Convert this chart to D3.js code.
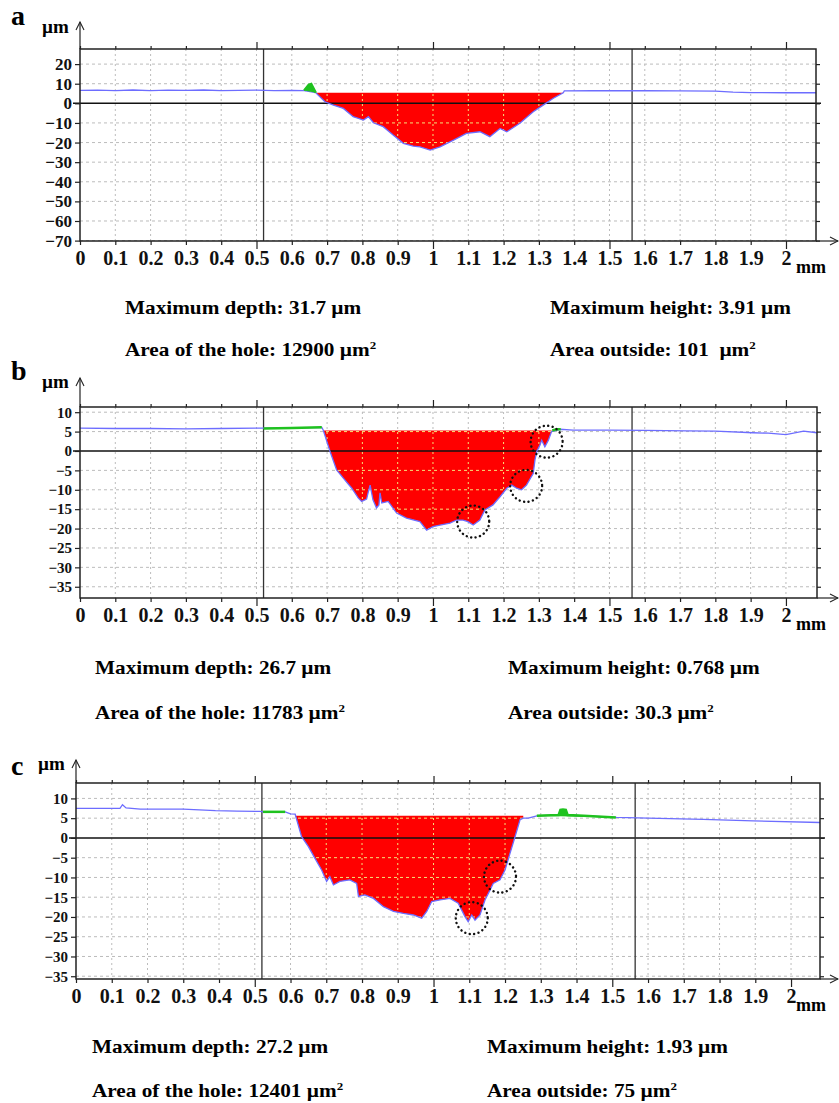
<!DOCTYPE html>
<html>
<head>
<meta charset="utf-8">
<script src="https://cdnjs.cloudflare.com/ajax/libs/d3/7.8.5/d3.min.js"></script>
<style>
  body { margin: 0; background: #fff; }
  svg { font-family: "Liberation Serif", "Times New Roman", serif; font-weight: bold; }
  text { white-space: pre; }
</style>
</head>
<body>
<svg width="839" height="1103"></svg>
<script>
// profile data (x in mm, y in µm)

var xTicks = d3.range(0, 21).map(function(i) { return i / 10; });
var aYTicks = [20, 10, 0, -10, -20, -30, -40, -50, -60, -70];
var bcYTicks = [10, 5, 0, -5, -10, -15, -20, -25, -30, -35];
var cursorX = [0.52, 1.564];

// --- a ---
var aLeftX = [0, 0.05, 0.1, 0.15, 0.2, 0.25, 0.3, 0.35, 0.4, 0.45, 0.5, 0.55, 0.6, 0.635];
var aLeftY = [6.6, 6.7, 6.5, 6.8, 6.5, 6.7, 6.6, 6.8, 6.5, 6.6, 6.7, 6.5, 6.6, 6.5];
var aGreenX = [0.635, 0.648, 0.655, 0.668];
var aGreenY = [6.5, 9.4, 9.8, 5.4];
var aHoleX = [0.668, 0.694, 0.718, 0.746, 0.774, 0.803, 0.817, 0.831, 0.859, 0.887, 0.916, 0.944, 0.963, 0.992, 1.02, 1.058, 1.095, 1.133, 1.161, 1.19, 1.209, 1.246, 1.284, 1.312, 1.341, 1.369];
var aHoleY = [5.4, 0.8, -0.9, -2.6, -6.8, -8.5, -6.8, -9.9, -11.9, -16.2, -20.4, -21.8, -22.2, -23.8, -22.2, -18.8, -15.3, -14.5, -17, -12.8, -14.5, -10.2, -4.3, -0.9, 2.6, 5.4];
var aRightX = [1.372, 1.45, 1.53, 1.6, 1.7, 1.8, 1.85, 1.9, 2.0, 2.085];
var aRightY = [6.3, 6.4, 6.4, 6.4, 6.3, 6.2, 5.7, 5.5, 5.4, 5.4];
var aHoleTop = 5.4;
var aCircles = [];
var aStats = ["Maximum depth: 31.7 µm", "Maximum height: 3.91 µm", "Area of the hole: 12900 µm", "Area outside: 101  µm"];

// --- b ---
var bLeftX = [0, 0.1, 0.2, 0.3, 0.4, 0.5, 0.52, 0.6, 0.685];
var bLeftY = [5.9, 5.8, 5.8, 5.7, 5.8, 5.9, 5.9, 5.9, 6.1];
var bGreen1X = [0.52, 0.6, 0.685];
var bGreen1Y = [5.8, 5.9, 6.1];
var bGreen2X = [1.338, 1.35, 1.362];
var bGreen2Y = [5.3, 5.6, 5.6];
var bHoleX = [0.689, 0.708, 0.727, 0.746, 0.77, 0.788, 0.798, 0.812, 0.817, 0.822, 0.83, 0.84, 0.847, 0.85, 0.855, 0.873, 0.897, 0.925, 0.963, 0.982, 1.0, 1.02, 1.048, 1.067, 1.085, 1.099, 1.114, 1.133, 1.147, 1.17, 1.19, 1.209, 1.223, 1.237, 1.251, 1.265, 1.284, 1.289, 1.294, 1.303, 1.308, 1.317, 1.327, 1.336];
var bHoleY = [5.4, 0, -4.9, -7, -9.6, -12.1, -13, -12.4, -10.5, -8.8, -12.6, -14.7, -13.9, -10.8, -13.4, -13, -16, -17.3, -18.2, -20.4, -19.5, -19.1, -18.6, -17.8, -17.8, -18.2, -19.1, -17.8, -15.2, -13.9, -11.8, -9.6, -8.8, -9.6, -10, -8.8, -5.8, -2.3, -0.1, 1.5, 2.8, 1.1, 2.8, 5.0];
var bRightX = [1.336, 1.36, 1.397, 1.5, 1.6, 1.719, 1.8, 1.907, 1.95, 2.0, 2.05, 2.088];
var bRightY = [5.0, 5.6, 5.4, 5.4, 5.3, 5.2, 5.1, 4.7, 4.6, 4.2, 5.1, 4.7];
var bHoleTop = 5.3;
var bCircles = [[1.114, -18.2], [1.264, -9.0], [1.322, 2.4]];
var bStats = ["Maximum depth: 26.7 µm", "Maximum height: 0.768 µm", "Area of the hole: 11783 µm", "Area outside: 30.3 µm"];

// --- c ---
var cLeftX = [0, 0.05, 0.123, 0.13, 0.14, 0.18, 0.3, 0.39, 0.45, 0.515, 0.523, 0.585, 0.6, 0.613];
var cLeftY = [7.5, 7.5, 7.5, 8.4, 7.6, 7.3, 7.3, 6.9, 6.8, 6.7, 6.6, 6.6, 6.1, 6.0];
var cGreen1X = [0.523, 0.585];
var cGreen1Y = [6.6, 6.6];
var cGreen2X = [1.289, 1.35, 1.355, 1.362, 1.37, 1.375, 1.42, 1.51];
var cGreen2Y = [5.6, 5.8, 7.1, 7.2, 7.1, 5.8, 5.6, 5.2];
var cHoleX = [0.613, 0.631, 0.65, 0.668, 0.687, 0.701, 0.71, 0.72, 0.738, 0.766, 0.785, 0.79, 0.808, 0.832, 0.86, 0.888, 0.916, 0.944, 0.967, 0.981, 0.995, 1.018, 1.046, 1.069, 1.088, 1.097, 1.107, 1.116, 1.13, 1.144, 1.158, 1.167, 1.186, 1.2, 1.214, 1.228, 1.242, 1.251];
var cHoleY = [6.0, 0.3, -2.2, -5.1, -8.1, -11, -9.8, -11.9, -11, -10.6, -11.5, -14.8, -14.4, -15.3, -17.4, -18.6, -19.1, -19.5, -20.3, -18.6, -16.1, -15.7, -15.3, -16.5, -19.9, -21.2, -19.5, -20.8, -19.5, -15.7, -13.2, -11.5, -10.6, -8.1, -3.9, 0.3, 4.6, 5.0];
var cRightX = [1.251, 1.265, 1.289, 1.32, 1.35, 1.362, 1.375, 1.42, 1.47, 1.512, 1.6, 1.754, 1.894, 2.081];
var cRightY = [5.0, 5.0, 5.6, 5.7, 5.8, 7.1, 5.8, 5.6, 5.4, 5.2, 5.0, 4.7, 4.3, 3.9];
var cHoleTop = 5.6;
var cCircles = [[1.107, -20.3], [1.186, -9.8]];
var cStats = ["Maximum depth: 27.2 µm", "Maximum height: 1.93 µm", "Area of the hole: 12401 µm", "Area outside: 75 µm"];

function zip(xs, ys) { return xs.map(function(v, i) { return [v, ys[i]]; }); }

var svg = d3.select("svg");

var panels = [
  { name: "a", left: 80, right: 816, top: 49, bottom: 241, xMax: 2.085, yDomain: [-70.2, 27.7], yTicks: aYTicks, yFont: 17,
    leftX: aLeftX, leftY: aLeftY, greens: [zip(aGreenX, aGreenY)], holeX: aHoleX, holeY: aHoleY, rightX: aRightX, rightY: aRightY,
    holeTop: aHoleTop, circles: aCircles, stats: aStats, letterY: 25, unitY: 33, arrowY: 22,
    statX: [125, 550], statY: [314, 356] },
  { name: "b", left: 80, right: 817, top: 407, bottom: 598, xMax: 2.088, yDomain: [-37.9, 11.34], yTicks: bcYTicks, yFont: 15,
    leftX: bLeftX, leftY: bLeftY, greens: [zip(bGreen1X, bGreen1Y), zip(bGreen2X, bGreen2Y)], holeX: bHoleX, holeY: bHoleY, rightX: bRightX, rightY: bRightY,
    holeTop: bHoleTop, circles: bCircles, stats: bStats, letterY: 380, unitY: 388, arrowY: 378,
    statX: [95, 508], statY: [674, 719] },
  { name: "c", left: 76, right: 820, top: 783, bottom: 979, xMax: 2.081, yDomain: [-35.7, 13.9], yTicks: bcYTicks, yFont: 15,
    leftX: cLeftX, leftY: cLeftY, greens: [zip(cGreen1X, cGreen1Y), zip(cGreen2X, cGreen2Y)], holeX: cHoleX, holeY: cHoleY, rightX: cRightX, rightY: cRightY,
    holeTop: cHoleTop, circles: cCircles, stats: cStats, letterY: 775, unitY: 770, arrowY: 760,
    statX: [92, 487], statY: [1053, 1097] }
];

var fmt = function(d) { return String(+d.toFixed(1)); };

panels.forEach(drawPanel);

function drawPanel(p) {
  var x = d3.scaleLinear().domain([0, p.xMax]).range([p.left, p.right]);
  var y = d3.scaleLinear().domain(p.yDomain).range([p.bottom, p.top]);
  var g = svg.append("g");

  var hole = zip(p.holeX, p.holeY);
  var profile = zip(p.leftX, p.leftY).concat(hole, zip(p.rightX, p.rightY));

  var area = d3.area()
      .x(function(d) { return x(d[0]); })
      .y0(y(p.holeTop))
      .y1(function(d) { return y(d[1]); });
  var line = d3.line()
      .x(function(d) { return x(d[0]); })
      .y(function(d) { return y(d[1]); });

  function grid(sel, color) {
    sel.selectAll("line.v")
      .data(xTicks.filter(function(d) { return d > 0; }))
      .enter().append("line")
        .attr("x1", function(d) { return x(d); })
        .attr("x2", function(d) { return x(d); })
        .attr("y1", p.top).attr("y2", p.bottom)
        .attr("stroke", color).attr("stroke-dasharray", "2,3");
    sel.selectAll("line.h")
      .data(p.yTicks.filter(function(d) { return d !== 0; }))
      .enter().append("line")
        .attr("x1", p.left).attr("x2", p.right)
        .attr("y1", function(d) { return y(d); })
        .attr("y2", function(d) { return y(d); })
        .attr("stroke", color).attr("stroke-dasharray", "3,3");
  }

  grid(g.append("g"), "#bcbcbc");

  g.append("path").datum(hole)
      .attr("d", area)
      .attr("fill", "#ff0000");

  // grid shows through the red fill as light yellow dashes
  var clipId = "clip-" + p.name;
  svg.append("clipPath").attr("id", clipId)
    .append("path").datum(hole).attr("d", area);
  grid(g.append("g").attr("clip-path", "url(#" + clipId + ")"), "#f4e27a");

  // zero line
  g.append("line")
      .attr("x1", p.left - 7).attr("x2", p.right + 5)
      .attr("y1", y(0)).attr("y2", y(0))
      .attr("stroke", "#111").attr("stroke-width", 1.6);

  // cursors
  g.selectAll("line.cursor")
    .data(cursorX)
    .enter().append("line")
      .attr("x1", function(d) { return x(d); })
      .attr("x2", function(d) { return x(d); })
      .attr("y1", p.top).attr("y2", p.bottom)
      .attr("stroke", "#333").attr("stroke-width", 1.3);

  // profile
  g.append("path").datum(profile)
      .attr("d", line)
      .attr("fill", "none")
      .attr("stroke", "#6d6dff")
      .attr("stroke-width", 1.3);

  g.selectAll("path.green")
    .data(p.greens)
    .enter().append("path")
      .attr("d", line)
      .attr("fill", "#1fc21f")
      .attr("stroke", "#1fc21f")
      .attr("stroke-width", 2.5);

  g.selectAll("circle.mark")
    .data(p.circles)
    .enter().append("circle")
      .attr("cx", function(d) { return x(d[0]); })
      .attr("cy", function(d) { return y(d[1]); })
      .attr("r", 16)
      .attr("fill", "none")
      .attr("stroke", "#111")
      .attr("stroke-width", 2.4)
      .attr("stroke-linecap", "round")
      .attr("stroke-dasharray", "0.1,4.4");

  // frame
  g.append("rect")
      .attr("x", p.left).attr("y", p.top)
      .attr("width", p.right - p.left).attr("height", p.bottom - p.top)
      .attr("fill", "none").attr("stroke", "#222").attr("stroke-width", 1.5);

  // axes
  var bottomAxis = g.append("g")
      .attr("transform", "translate(0," + p.bottom + ")")
      .call(d3.axisBottom(x).tickValues(xTicks).tickSize(4).tickPadding(6).tickFormat(fmt));
  var topAxis = g.append("g")
      .attr("transform", "translate(0," + p.top + ")")
      .call(d3.axisTop(x).tickValues(xTicks).tickSize(3).tickFormat(""));
  var leftAxis = g.append("g")
      .attr("transform", "translate(" + p.left + ",0)")
      .call(d3.axisLeft(y).tickValues(p.yTicks).tickSize(5).tickPadding(3));
  g.append("g")
      .attr("transform", "translate(" + p.right + ",0)")
      .call(d3.axisRight(y).tickValues(p.yTicks).tickSize(4).tickFormat(""));

  g.selectAll(".domain").remove();
  g.selectAll(".tick line").attr("stroke", "#222").attr("stroke-width", 1.2);
  [bottomAxis, topAxis].forEach(function(ax) {
    ax.selectAll(".tick line")
      .filter(function(d) { return Math.abs(d * 2 - Math.round(d * 2)) < 1e-6 && d > 0; })
      .attr("y2", ax === topAxis ? -7 : 8);
  });
  bottomAxis.selectAll("text")
      .attr("fill", "#111")
      .style("font-size", "20px")
      .style("font-family", "Liberation Serif, serif");
  leftAxis.selectAll("text")
      .attr("fill", "#111")
      .style("font-size", p.yFont + "px")
      .style("font-family", "Liberation Serif, serif");

  // axis arrows
  g.append("line")
      .attr("x1", p.left).attr("x2", p.left)
      .attr("y1", p.top).attr("y2", p.arrowY)
      .attr("stroke", "#222").attr("stroke-width", 1.2);
  g.append("path")
      .attr("d", "M" + (p.left - 4) + "," + (p.arrowY + 8) + "L" + p.left + "," + p.arrowY + "L" + (p.left + 4) + "," + (p.arrowY + 8))
      .attr("fill", "none").attr("stroke", "#222").attr("stroke-width", 1.1);
  g.append("line")
      .attr("x1", p.right).attr("x2", 838)
      .attr("y1", p.bottom).attr("y2", p.bottom)
      .attr("stroke", "#222").attr("stroke-width", 1.2);
  g.append("path")
      .attr("d", "M830," + (p.bottom - 4) + "L838," + p.bottom + "L830," + (p.bottom + 4))
      .attr("fill", "none").attr("stroke", "#222").attr("stroke-width", 1.1);

  // labels
  g.append("text").attr("x", 11).attr("y", p.letterY)
      .style("font-size", "28px").text(p.name);
  g.append("text").attr("x", p.left - 38).attr("y", p.unitY)
      .style("font-size", "19px").text("µm");
  g.append("text").attr("x", 796).attr("y", p.bottom + 32)
      .style("font-size", "18px").text("mm");

  // statistics, two rows by two columns
  p.stats.forEach(function(s, i) {
    var t = g.append("text")
        .attr("transform", "translate(" + p.statX[i % 2] + "," + p.statY[Math.floor(i / 2)] + ") scale(1.18,1)")
        .style("font-size", "18px")
        .text(s);
    if (i >= 2) {
      t.append("tspan").attr("dy", -7).style("font-size", "11px").text("2");
    }
  });
}
</script>
</body>
</html>
